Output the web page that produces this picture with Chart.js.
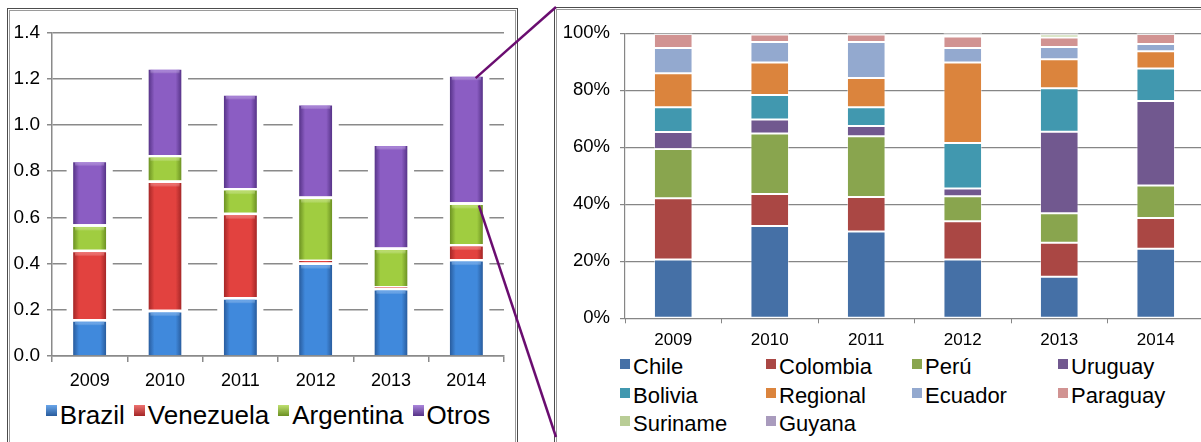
<!DOCTYPE html>
<html lang="es">
<head>
<meta charset="utf-8">
<script src="https://cdn.jsdelivr.net/npm/chart.js@4.4.1/dist/chart.umd.min.js"></script>
<style>
  html, body { margin: 0; padding: 0; background: #fff; }
  body { width: 1201px; height: 442px; overflow: hidden; position: relative; font-family: "Liberation Sans", Arial, sans-serif; color: #000; }
  .frame { position: absolute; border: 1px solid #4d4d4d; box-shadow: inset 0 0 0 1px #fff, inset 0 0 0 2px #9a9a9a; }
  #frame-left { left: 7px; top: 8px; width: 509px; height: 460px; }
  #frame-right { left: 554px; top: 7px; width: 700px; height: 460px; }
  .wrap { position: absolute; }
  #wrap-left { left: 10px; top: 12px; width: 500px; height: 380px; }
  #wrap-right { left: 560px; top: 12px; width: 650px; height: 340px; }
  #legend-left { position: absolute; left: 18px; top: 400px; width: 500px; display: flex; justify-content: center; font-size: 26px; line-height: 30px; white-space: nowrap; }
  #legend-left .item { display: flex; align-items: flex-start; margin-right: 9px; }
  #legend-left .item:last-child { margin-right: 0; }
  #legend-left .sw { width: 11px; height: 11px; margin: 5px 3px 0 0; }
  #legend-right { position: absolute; left: 620px; top: 353px; display: grid; grid-template-columns: repeat(4, 146px); font-size: 22px; line-height: 28.5px; white-space: nowrap; }
  #legend-right .item { display: flex; align-items: flex-start; }
  #legend-right .sw { width: 10px; height: 10px; margin: 6px 3px 0 0; }
  #links { position: absolute; left: 0; top: 0; pointer-events: none; }
</style>
</head>
<body>
<div class="frame" id="frame-left"></div>
<div class="frame" id="frame-right"></div>
<div class="wrap" id="wrap-left"><canvas id="chart-left" width="500" height="380"></canvas></div>
<div class="wrap" id="wrap-right"><canvas id="chart-right" width="650" height="340"></canvas></div>
<div id="legend-left"></div>
<div id="legend-right"></div>
<svg id="links" width="1201" height="442"></svg>
<script>
const years = ["2009", "2010", "2011", "2012", "2013", "2014"];

// left: stacked totals by destination
const brazil    = [0.16, 0.20, 0.255, 0.405, 0.295, 0.42];
const venezuela = [0.30, 0.56, 0.365, 0.012, 0.008, 0.065];
const argentina = [0.11, 0.11, 0.107, 0.273, 0.167, 0.18];
const otros     = [0.28, 0.38, 0.41, 0.405, 0.45, 0.555];

// right: breakdown of "Otros", percent of each year
const chile    = [20.6, 32.4, 30.4, 20.6, 14.6, 24.4];
const colombia = [21.5, 11.2, 12.1, 13.4, 11.9, 10.8];
const peru     = [17.3, 21.2, 21.3, 8.8, 10.3, 11.4];
const uruguay  = [5.9, 4.9, 3.6, 2.7, 28.6, 29.6];
const bolivia  = [8.7, 8.6, 6.6, 16.0, 15.3, 11.4];
const regional = [11.9, 11.4, 10.3, 28.2, 10.1, 6.0];
const ecuador  = [8.9, 7.2, 12.6, 5.1, 4.3, 2.6];
const paraguay = [4.9, 2.6, 2.6, 4.0, 3.4, 3.5];
const suriname = [0.1, 0.2, 0.2, 0.7, 1.0, 0.0];
const guyana   = [0.2, 0.3, 0.3, 0.5, 0.5, 0.3];

const LEFT_BAR = 0.44;
const RIGHT_BAR = 0.40;
const FONT = '"Liberation Sans", Arial, sans-serif';

const leftSeries = [
  { label: "Brazil", data: brazil, edge: "#285b9c", mid: "#4089dc", light: "#6aa6ea" },
  { label: "Venezuela", data: venezuela, edge: "#a32626", mid: "#e2423f", light: "#ee7270" },
  { label: "Argentina", data: argentina, edge: "#6b9022", mid: "#a0cd40", light: "#bfe070" },
  { label: "Otros", data: otros, edge: "#553286", mid: "#8b5dc3", light: "#ab86dc" },
];

const rightSeries = [
  { label: "Chile", data: chile, color: "#4570a6" },
  { label: "Colombia", data: colombia, color: "#aa4744" },
  { label: "Perú", data: peru, color: "#89a54e" },
  { label: "Uruguay", data: uruguay, color: "#71588f" },
  { label: "Bolivia", data: bolivia, color: "#4198af" },
  { label: "Regional", data: regional, color: "#db843d" },
  { label: "Ecuador", data: ecuador, color: "#93a9cf" },
  { label: "Paraguay", data: paraguay, color: "#d19392" },
  { label: "Suriname", data: suriname, color: "#b9cd96" },
  { label: "Guyana", data: guyana, color: "#a99bbd" },
];

// horizontal shading across each bar: darker edges, lighter middle
function barGradient(s) {
  return (ctx) => {
    const chart = ctx.chart;
    const xs = chart.scales.x;
    if (!chart.chartArea || !xs) return s.mid;
    const cx = xs.getPixelForValue(ctx.dataIndex);
    const w = (xs.width / years.length) * LEFT_BAR;
    const g = chart.ctx.createLinearGradient(cx - w / 2, 0, cx + w / 2, 0);
    g.addColorStop(0, s.edge);
    g.addColorStop(0.18, s.mid);
    g.addColorStop(0.5, s.mid);
    g.addColorStop(0.82, s.mid);
    g.addColorStop(1, s.edge);
    return g;
  };
}

// white margin around each column so the gridlines stop short of it
const columnHalo = {
  id: "columnHalo",
  beforeDatasetsDraw(chart) {
    const { ctx, scales: { x, y } } = chart;
    const w = (x.width / years.length) * LEFT_BAR;
    ctx.save();
    ctx.fillStyle = "#fff";
    years.forEach((_, i) => {
      const total = brazil[i] + venezuela[i] + argentina[i] + otros[i];
      const cx = x.getPixelForValue(i);
      const top = y.getPixelForValue(total);
      const bottom = y.getPixelForValue(0);
      ctx.fillRect(cx - w / 2 - 6.5, top - 5, w + 13, bottom - top + 4);
    });
    ctx.restore();
  },
  // soft light bevel along the top of every segment
  afterDatasetsDraw(chart) {
    const { ctx } = chart;
    ctx.save();
    leftSeries.forEach((s, di) => {
      chart.getDatasetMeta(di).data.forEach((bar) => {
        const h = bar.base - bar.y - 2.6;
        if (h < 6) return;
        const top = bar.y + 2.6;
        const g = ctx.createLinearGradient(0, top, 0, top + 4);
        g.addColorStop(0, s.light);
        g.addColorStop(1, "rgba(255,255,255,0)");
        ctx.globalAlpha = 0.7;
        ctx.fillStyle = g;
        ctx.fillRect(bar.x - bar.width / 2 + 2, top, bar.width - 4, 4);
      });
    });
    ctx.restore();
  },
};

function axisOpts(o) {
  return {
    stacked: true,
    grid: { color: o.gridColor, lineWidth: o.gridWidth, tickLength: 5 },
    border: { color: o.gridColor, width: o.gridWidth },
  };
}

const chartLeft = new Chart(document.getElementById("chart-left"), {
  type: "bar",
  data: {
    labels: years,
    datasets: leftSeries.map((s) => ({
      label: s.label,
      data: s.data,
      backgroundColor: barGradient(s),
      borderColor: "#fff",
      borderWidth: { top: 2.6, left: 0, right: 0, bottom: 0 },
      barPercentage: LEFT_BAR,
      categoryPercentage: 1,
    })),
  },
  options: {
    responsive: false,
    animation: false,
    devicePixelRatio: 1,
    layout: { padding: { top: 20.5, right: 6, left: 0, bottom: 0 } },
    plugins: { legend: { display: false }, tooltip: { enabled: false } },
    scales: {
      x: {
        stacked: true,
        offset: true,
        grid: { offset: true, drawOnChartArea: false, tickLength: 6, color: "#8a8a8a", lineWidth: 1.5 },
        border: { color: "#8a8a8a", width: 1.5 },
        ticks: { color: "#000", font: { family: FONT, size: 18 }, padding: 8, maxRotation: 0 },
        afterFit: (s) => { s.height = 36; },
      },
      y: {
        ...axisOpts({ gridColor: "#8a8a8a", gridWidth: 1.5 }),
        min: 0,
        max: 1.4,
        ticks: { stepSize: 0.2, color: "#000", font: { family: FONT, size: 19 }, padding: 7, callback: (v) => Number(v).toFixed(1) },
        afterFit: (s) => { s.width = 42; },
      },
    },
  },
  plugins: [columnHalo],
});

const chartRight = new Chart(document.getElementById("chart-right"), {
  type: "bar",
  data: {
    labels: years,
    datasets: rightSeries.map((s) => ({
      label: s.label,
      data: s.data,
      backgroundColor: s.color,
      borderColor: "rgba(255,255,255,0.45)",
      borderWidth: 1,
      borderSkipped: false,
      barPercentage: RIGHT_BAR,
      categoryPercentage: 1,
    })),
  },
  options: {
    responsive: false,
    animation: false,
    devicePixelRatio: 1,
    layout: { padding: { top: 20.3, right: 6, left: 0, bottom: 0 } },
    plugins: { legend: { display: false }, tooltip: { enabled: false } },
    scales: {
      x: {
        stacked: true,
        offset: true,
        grid: { offset: true, drawOnChartArea: false, tickLength: 5, color: "#868686", lineWidth: 1 },
        border: { color: "#868686", width: 1 },
        ticks: { color: "#000", font: { family: FONT, size: 17 }, padding: 7, maxRotation: 0 },
        afterFit: (s) => { s.height = 33.7; },
      },
      y: {
        ...axisOpts({ gridColor: "#868686", gridWidth: 1.2 }),
        min: 0,
        max: 100,
        ticks: { stepSize: 20, color: "#000", font: { family: FONT, size: 18.5 }, padding: 10, callback: (v) => v + "%" },
        afterFit: (s) => { s.width = 65; },
      },
    },
  },
});

// html legends
document.getElementById("legend-left").innerHTML = leftSeries.map((s) =>
  `<div class="item"><span class="sw" style="background:linear-gradient(${s.light}, ${s.edge})"></span>${s.label}</div>`
).join("");
document.getElementById("legend-right").innerHTML = rightSeries.map((s) =>
  `<div class="item"><span class="sw" style="background:${s.color}"></span>${s.label}</div>`
).join("");

// lines tying the 2014 "Otros" segment to the breakdown panel
function drawLinks() {
  const bar = chartLeft.getDatasetMeta(3).data[5];
  const wrap = document.getElementById("wrap-left").getBoundingClientRect();
  const frame = document.getElementById("frame-right").getBoundingClientRect();
  const x1 = wrap.left + bar.x + bar.width * 0.28;
  const y1 = wrap.top + bar.y + 4;
  const x2 = wrap.left + bar.x + bar.width * 0.38;
  const y2 = wrap.top + bar.base + 3;
  const ex = frame.left + 2;
  document.getElementById("links").innerHTML =
    `<line x1="${x1}" y1="${y1}" x2="${ex}" y2="${frame.top}" stroke="#6a0d70" stroke-width="2.5"/>` +
    `<line x1="${x2}" y1="${y2}" x2="${ex}" y2="${frame.top + 430}" stroke="#6a0d70" stroke-width="2.5"/>`;
}
drawLinks();
</script>
</body>
</html>
